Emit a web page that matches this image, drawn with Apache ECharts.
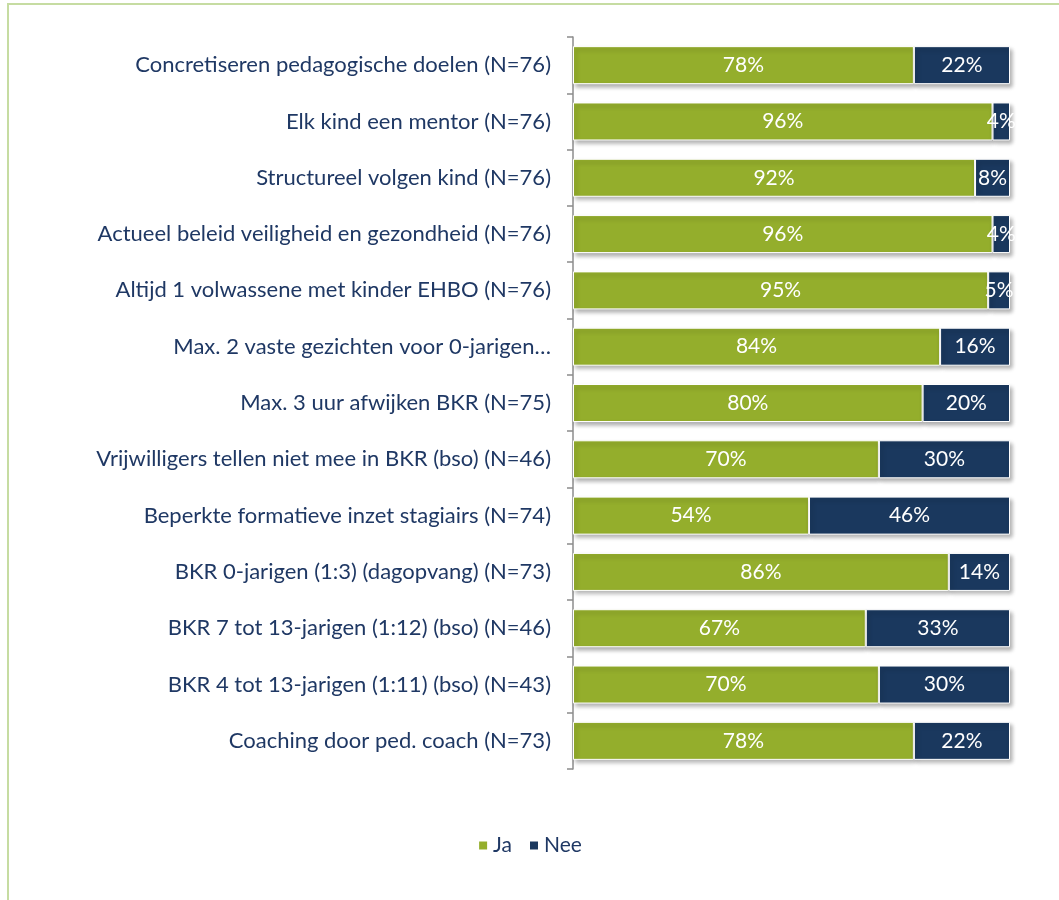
<!DOCTYPE html>
<html>
<head>
<meta charset="utf-8">
<script src="https://cdn.jsdelivr.net/npm/echarts@6/dist/echarts.min.js"></script>
<style>
  html, body { margin: 0; padding: 0; background: #fff; }
  #main { width: 1059px; height: 900px; }
</style>
</head>
<body>
<div id="main"></div>
<script>
var categories = [
  'Concretiseren pedagogische doelen (N=76)',
  'Elk kind een mentor (N=76)',
  'Structureel volgen kind (N=76)',
  'Actueel beleid veiligheid en gezondheid (N=76)',
  'Altijd 1 volwassene met kinder EHBO (N=76)',
  'Max. 2 vaste gezichten voor 0-jarigen…',
  'Max. 3 uur afwijken BKR (N=75)',
  'Vrijwilligers tellen niet mee in BKR (bso) (N=46)',
  'Beperkte formatieve inzet stagiairs (N=74)',
  'BKR 0-jarigen (1:3) (dagopvang) (N=73)',
  'BKR 7 tot 13-jarigen (1:12) (bso) (N=46)',
  'BKR 4 tot 13-jarigen (1:11) (bso) (N=43)',
  'Coaching door ped. coach (N=73)'
]
var ja = [78, 96, 92, 96, 95, 84, 80, 70, 54, 86, 67, 70, 78]
var nee = [22, 4, 8, 4, 5, 16, 20, 30, 46, 14, 33, 30, 22]

var chart = echarts.init(document.getElementById('main'))

var fontFamily = 'Lato, "Open Sans", sans-serif'

function barSeries(name, values, color) {
  return {
    name: name,
    type: 'bar',
    stack: 'total',
    data: values,
    barWidth: 38,
    itemStyle: {
      color: color,
      borderColor: '#ffffff',
      borderWidth: 1,
      shadowBlur: 4,
      shadowOffsetX: 2,
      shadowOffsetY: 3,
      shadowColor: 'rgba(0, 0, 0, 0.3)'
    },
    label: {
      show: true,
      position: 'inside',
      formatter: '{c}%',
      color: '#ffffff',
      fontSize: 21,
      fontFamily: fontFamily
    }
  }
}

var option = {
  animation: false,
  textStyle: { fontFamily: fontFamily },
  graphic: [{
    type: 'rect',
    shape: { x: 8, y: 4, width: 1200, height: 1000 },
    style: { fill: 'none', stroke: '#c6dca2', lineWidth: 2 },
    silent: true
  }],
  grid: {
    left: 573,
    right: 49,
    top: 37,
    bottom: 131
  },
  legend: {
    bottom: 39,
    left: 'center',
    itemWidth: 10,
    itemHeight: 10,
    itemGap: 16,
    icon: 'rect',
    textStyle: { color: '#1f3864', fontSize: 21, fontFamily: fontFamily },
    data: ['Ja', 'Nee']
  },
  xAxis: {
    type: 'value',
    min: 0,
    max: 100,
    show: false
  },
  yAxis: {
    type: 'category',
    data: categories,
    inverse: true,
    axisLine: { show: true, lineStyle: { color: '#8c8c8c', width: 1.5 } },
    axisTick: { show: true, length: 6, lineStyle: { color: '#8c8c8c', width: 1.5 } },
    axisLabel: {
      color: '#1f3864',
      fontSize: 22,
      margin: 22,
      fontFamily: fontFamily
    }
  },
  series: [
    barSeries('Ja', ja, '#94ae2c'),
    barSeries('Nee', nee, '#1a385e')
  ]
}

chart.setOption(option)
</script>
</body>
</html>
